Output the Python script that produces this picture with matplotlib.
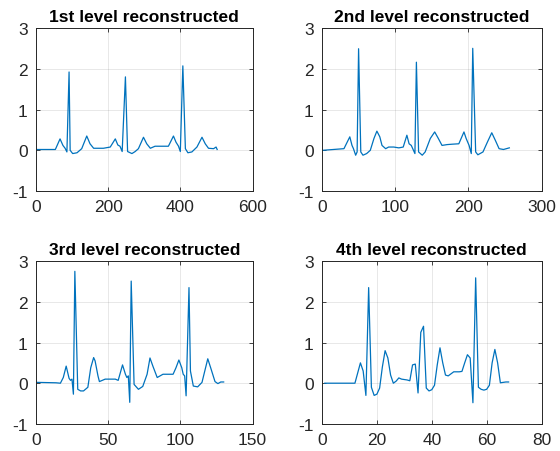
import matplotlib
matplotlib.use('Agg')
import matplotlib.pyplot as plt
import numpy as np

plt.rcParams['font.family'] = ['Liberation Sans', 'DejaVu Sans']
plt.rcParams['axes.unicode_minus'] = False

# vertices of the reconstructed signals (sample index, amplitude)
x1 = [1, 54, 67, 75, 81, 86, 92, 95, 102, 114,
      127, 141, 150, 160, 174, 187, 206, 220, 227, 233,
      239, 248, 254, 266, 275, 284, 298, 307, 317, 330,
      349, 367, 381, 388, 395, 400, 407, 414, 421, 432,
      446, 460, 469, 478, 492, 499, 502]
y1 = [0.02, 0.02, 0.28, 0.12, 0.05, -0.04, 1.92, 0.0, -0.08, -0.06,
      0.04, 0.35, 0.16, 0.05, 0.05, 0.05, 0.08, 0.28, 0.13, 0.1,
      -0.03, 1.8, -0.03, -0.08, -0.03, 0.04, 0.32, 0.16, 0.05, 0.1,
      0.1, 0.1, 0.35, 0.2, 0.1, -0.03, 2.07, 0.04, -0.06, -0.04,
      0.08, 0.32, 0.16, 0.05, 0.04, 0.08, 0.02]

x2 = [1, 30, 38, 41, 43, 46, 48, 50, 53, 56,
      61, 66, 71, 75, 79, 82, 87, 91, 98, 105,
      111, 116, 119, 122, 125, 127, 129, 132, 137, 141,
      148, 154, 159, 164, 171, 178, 187, 194, 197, 201,
      204, 206, 210, 213, 220, 226, 232, 237, 242, 248,
      256]
y2 = [0.0, 0.04, 0.33, 0.12, 0.04, -0.12, -0.04, 2.49, -0.04, -0.12,
      -0.08, 0.0, 0.29, 0.47, 0.33, 0.12, 0.04, 0.08, 0.08, 0.06,
      0.08, 0.37, 0.16, 0.12, 0.0, -0.08, 2.16, -0.04, -0.12, -0.04,
      0.29, 0.45, 0.29, 0.12, 0.14, 0.15, 0.16, 0.45, 0.29, 0.12,
      -0.08, 2.5, -0.04, -0.11, -0.04, 0.2, 0.43, 0.24, 0.04, 0.02,
      0.06]

x3 = [1, 14, 17, 19, 21, 23, 24, 25, 26, 27,
      29, 31, 33, 36, 38, 40, 41, 43, 44, 48,
      55, 57, 60, 62, 63, 64, 65, 66, 68, 71,
      74, 77, 79, 81, 84, 86, 88, 95, 97, 99,
      101, 102, 103, 104, 106, 107, 109, 112, 115, 119,
      121, 124, 126, 128, 130]
y3 = [0.02, 0.01, 0.0, 0.14, 0.42, 0.12, 0.07, 0.1, -0.27, 2.75,
      -0.15, -0.19, -0.19, -0.1, 0.38, 0.63, 0.55, 0.18, 0.04, 0.1,
      0.1, 0.07, 0.45, 0.22, 0.14, 0.18, -0.47, 2.51, -0.03, -0.15,
      -0.08, 0.22, 0.62, 0.42, 0.14, 0.18, 0.22, 0.22, 0.38, 0.57,
      0.38, 0.22, 0.18, -0.31, 2.35, 0.3, -0.07, -0.09, 0.02, 0.6,
      0.38, 0.04, -0.01, 0.03, 0.03]

# 4th level: every sample 1..68
y4 = [0.0, 0.0, 0.0, 0.0, 0.0, 0.0, 0.0, 0.0, 0.0, 0.0,
      0.0, 0.0, 0.25, 0.5, 0.3, -0.3, 2.35, -0.1, -0.3, -0.27,
      -0.12, 0.4, 0.8, 0.62, 0.2, 0.0, 0.05, 0.13, 0.1, 0.09,
      0.08, 0.06, 0.45, 0.47, -0.24, 1.25, 1.4, -0.12, -0.19, -0.16,
      -0.05, 0.45, 0.87, 0.5, 0.2, 0.18, 0.23, 0.28, 0.28, 0.28,
      0.29, 0.5, 0.7, 0.62, -0.48, 2.59, -0.1, -0.15, -0.17, -0.15,
      -0.05, 0.5, 0.83, 0.5, 0.01, 0.02, 0.03, 0.03]
x4 = list(range(1, len(y4) + 1))

titles = ['1st level reconstructed', '2nd level reconstructed',
          '3rd level reconstructed', '4th level reconstructed']
xlims = [600, 300, 150, 80]
xtick_sets = [[0, 200, 400, 600], [0, 100, 200, 300],
              [0, 50, 100, 150], [0, 20, 40, 60, 80]]
yticks = [-1, 0, 1, 2, 3]

signals = [(x1, y1), (x2, y2), (x3, y3), (x4, y4)]
# [left, bottom, width, height] in figure fractions
boxes = [[0.064, 0.575, 0.387, 0.361], [0.575, 0.575, 0.392, 0.361],
         [0.064, 0.060, 0.387, 0.360], [0.575, 0.060, 0.392, 0.360]]

fig = plt.figure(figsize=(5.6, 4.52), dpi=100)
fig.patch.set_facecolor('white')
dark = '#262626'

for (xs, ys), title, xl, xt, box in zip(signals, titles, xlims, xtick_sets, boxes):
    ax = fig.add_axes(box)
    ax.plot(xs, ys, color='#0072BD', linewidth=0.9)
    ax.set_xlim(0, xl)
    ax.set_ylim(-1, 3)
    ax.set_xticks(xt)
    ax.set_yticks(yticks)
    ax.grid(True, color='#262626', alpha=0.12, linewidth=0.6)
    ax.set_axisbelow(True)
    ax.tick_params(direction='in', length=3, width=0.6, colors=dark,
                   labelsize=12.5, top=True, right=True, pad=6)
    for s in ax.spines.values():
        s.set_color(dark)
        s.set_linewidth(0.7)
    ax.set_title(title, fontsize=12.5, fontweight='bold', color='black', pad=5)

fig.savefig('out.png', dpi=100)
